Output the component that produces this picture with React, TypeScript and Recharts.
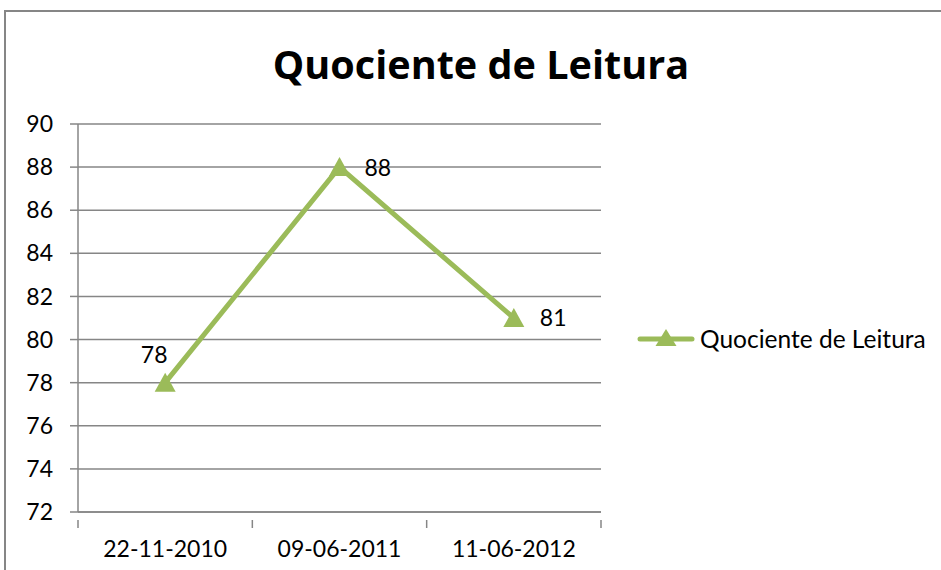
import React from "react";
import { LineChart, Line, XAxis, YAxis, CartesianGrid, LabelList } from "recharts";

const categories = ["22-11-2010", "09-06-2011", "11-06-2012"];
const values = [78, 88, 81];
const yTicks = [72, 74, 76, 78, 80, 82, 84, 86, 88, 90];
const seriesName = "Quociente de Leitura";
const title = "Quociente de Leitura";

const data = categories.map((c, i) => ({ date: c, value: values[i] }));

const GREEN = "#9BBB59";
const GRAY = "#868686";
const FONT = "Lato, 'Open Sans', sans-serif";
const labelOffsets = [
  { dx: -11, dy: -28, anchor: "middle" },
  { dx: 25, dy: 1, anchor: "start" },
  { dx: 26, dy: 0, anchor: "start" },
];

const Tri = (props: any) => {
  const { cx, cy } = props;
  if (cx == null || cy == null) return null;
  return <path d={`M${cx},${cy - 10} L${cx + 10.5},${cy + 9} L${cx - 10.5},${cy + 9} Z`} fill={GREEN} />;
};

const XTick = (props: any) => {
  const { x, y, payload, index } = props;
  const off = payload && payload.offset ? payload.offset : 87;
  return (
    <g>
      <line x1={x - off} y1={y} x2={x - off} y2={y + 8} stroke={GRAY} strokeWidth={1.5} />
      {index === categories.length - 1 && (
        <line x1={x + off} y1={y} x2={x + off} y2={y + 8} stroke={GRAY} strokeWidth={1.5} />
      )}
      <text x={x} y={y + 21} dy="0.71em" textAnchor="middle" fill="#000" fontSize={23} fontFamily={FONT}>
        {payload.value}
      </text>
    </g>
  );
};

const ValueLabel = (props: any) => {
  const { x, y, value, index } = props;
  const o = labelOffsets[index] || { dx: 0, dy: -20, anchor: "middle" };
  return (
    <text x={x + o.dx} y={y + o.dy} dy="0.355em" textAnchor={o.anchor} fontSize={23} fontFamily={FONT} fill="#000">
      {value}
    </text>
  );
};

export default function App() {
  return (
    <div style={{ position: "relative", width: 941, height: 570, overflow: "hidden", background: "#fff" }}>
      <style>{`body{margin:0}`}</style>
      <div
        style={{
          position: "absolute",
          left: 4,
          top: 10,
          width: 960,
          height: 600,
          border: `2px solid ${GRAY}`,
          boxSizing: "border-box",
        }}
      />
      <div
        style={{
          position: "absolute",
          left: 0,
          width: 962,
          top: 38,
          textAlign: "center",
          fontFamily: "'Open Sans', Lato, sans-serif",
          fontWeight: 700,
          fontSize: 39.6,
          lineHeight: "52px",
          color: "#000",
        }}
      >
        {title}
      </div>
      <div style={{ position: "absolute", left: 0, top: 0 }}>
        <LineChart width={941} height={570} data={data} margin={{ top: 124, right: 340, bottom: 0, left: 0 }}>
          <CartesianGrid vertical={false} stroke={GRAY} strokeWidth={1.5} />
          <XAxis
            dataKey="date"
            scale="band"
            axisLine={{ stroke: GRAY, strokeWidth: 1.5 }}
            tickLine={false}
            tick={<XTick />}
            interval={0}
            height={58}
          />
          <YAxis
            domain={[72, 90]}
            ticks={yTicks}
            width={78}
            axisLine={{ stroke: GRAY, strokeWidth: 1.5 }}
            tickLine={{ stroke: GRAY, strokeWidth: 1.5 }}
            tickSize={8}
            tickMargin={17}
            tick={{ fill: "#000", fontSize: 23, fontFamily: FONT }}
            interval={0}
          />
          <Line
            type="linear"
            dataKey="value"
            name={seriesName}
            stroke={GREEN}
            strokeWidth={5}
            dot={<Tri />}
            activeDot={false}
            isAnimationActive={false}
          >
            <LabelList dataKey="value" content={<ValueLabel />} />
          </Line>
        </LineChart>
      </div>
      <svg width={300} height={30} style={{ position: "absolute", left: 638, top: 325, overflow: "visible" }}>
        <line x1={2} y1={14} x2={54} y2={14} stroke={GREEN} strokeWidth={5} strokeLinecap="round" />
        <path d={`M28,4 L38.5,21 L17.5,21 Z`} fill={GREEN} />
        <text x={62} y={14} dy="0.355em" fontSize={24.5} fontFamily={FONT} fill="#000">
          {seriesName}
        </text>
      </svg>
    </div>
  );
}
